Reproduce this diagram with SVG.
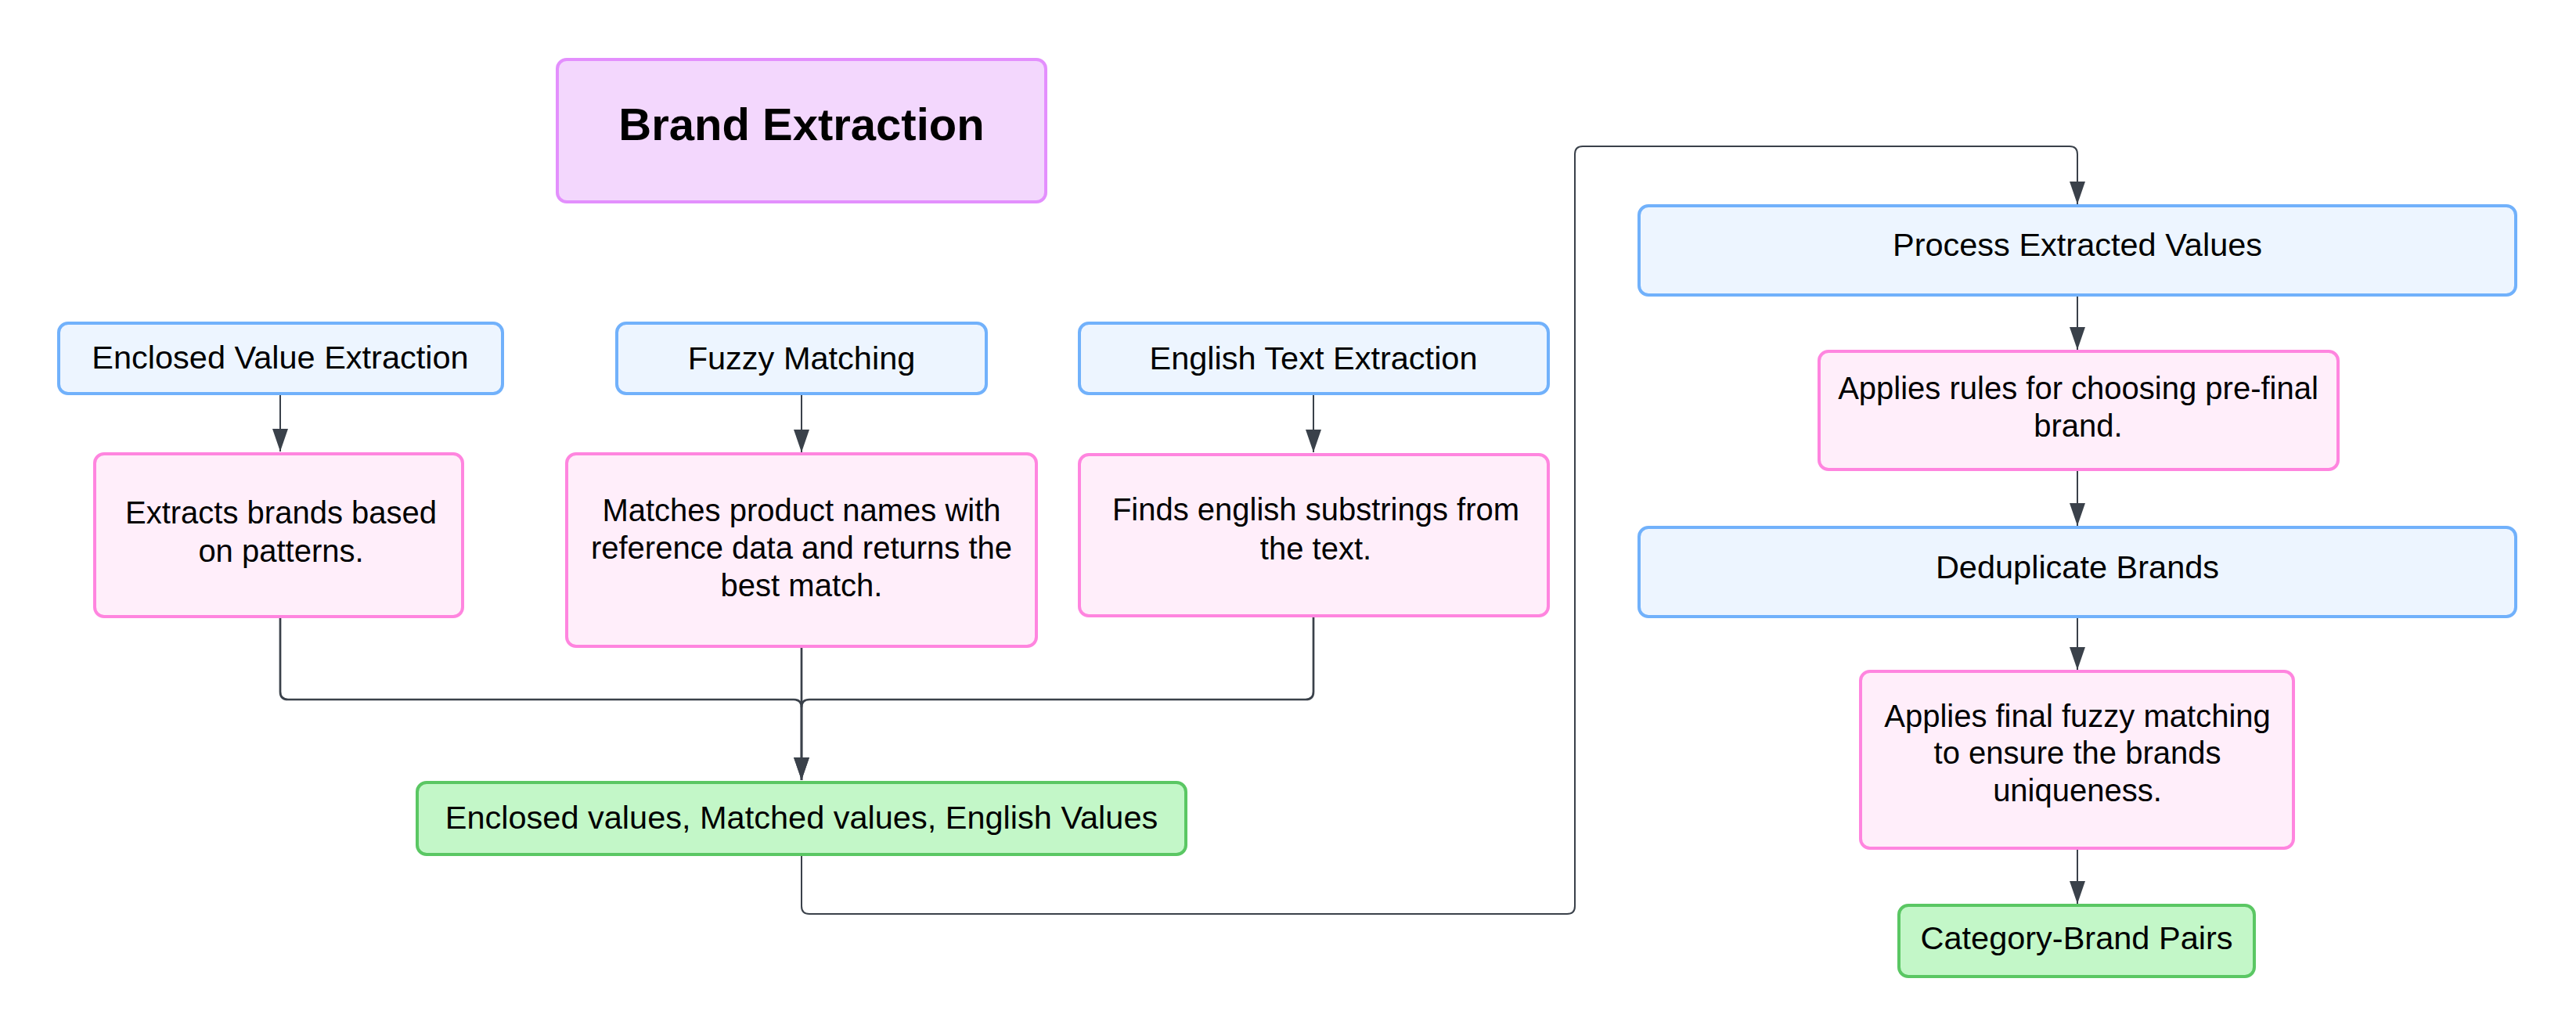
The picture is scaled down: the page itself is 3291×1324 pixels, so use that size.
<svg xmlns="http://www.w3.org/2000/svg" width="3291" height="1324" viewBox="0 0 3291 1324">
<style>
  text { font-family: "Liberation Sans", Arial, sans-serif; font-size: 41.5px; fill: #000; text-anchor: middle; }
  text.ml { font-size: 40px; }
  .title { font-weight: bold; font-size: 58px; }
  .blue { fill: #EDF5FF; stroke: #71B1FB; stroke-width: 4; }
  .pink { fill: #FFEEFA; stroke: #FF85DF; stroke-width: 4; }
  .purple { fill: #F3D7FD; stroke: #E38FFD; stroke-width: 4; }
  .green { fill: #C3F7C8; stroke: #5AC763; stroke-width: 4; }
  .conn { fill: none; stroke: #3A414A; stroke-width: 2; }
  .merge { stroke-width: 2.7; }
</style>
<defs>
  <marker id="arrow" markerUnits="userSpaceOnUse" markerWidth="30" markerHeight="20" refX="29" refY="10" orient="auto">
    <path d="M0,0 L29,10 L0,20 z" fill="#3A414A"/>
  </marker>
</defs>
<rect width="3291" height="1324" fill="#FFFFFF"/>

<g id="connectors">
  <path class="conn" d="M358 503 V577" marker-end="url(#arrow)"/>
  <path class="conn" d="M1024 503 V578" marker-end="url(#arrow)"/>
  <path class="conn" d="M1678 503 V578" marker-end="url(#arrow)"/>
  <path class="conn merge" d="M358 788 V884 Q358 894 368 894 H1014 Q1024 894 1024 904 V997" marker-end="url(#arrow)"/>
  <path class="conn merge" d="M1024 826 V997" marker-end="url(#arrow)"/>
  <path class="conn merge" d="M1678 787 V884 Q1678 894 1668 894 H1034 Q1024 894 1024 904"/>
  <path class="conn" d="M1024 1092 V1158 Q1024 1168 1034 1168 H2002 Q2012 1168 2012 1158 V197 Q2012 187 2022 187 H2644 Q2654 187 2654 197 V261" marker-end="url(#arrow)"/>
  <path class="conn" d="M2654 377 V447" marker-end="url(#arrow)"/>
  <path class="conn" d="M2654 600 V672" marker-end="url(#arrow)"/>
  <path class="conn" d="M2654 788 V856" marker-end="url(#arrow)"/>
  <path class="conn" d="M2654 1084 V1155" marker-end="url(#arrow)"/>
</g>

<g id="brand-extraction">
  <rect class="purple" x="712" y="76" width="624" height="182" rx="12"/>
  <text class="title" x="1024" y="179">Brand Extraction</text>
</g>

<g id="enclosed-value-extraction">
  <rect class="blue" x="75" y="413" width="567" height="90" rx="12"/>
  <text x="358" y="471">Enclosed Value Extraction</text>
</g>

<g id="fuzzy-matching">
  <rect class="blue" x="788" y="413" width="472" height="90" rx="12"/>
  <text x="1024" y="472">Fuzzy Matching</text>
</g>

<g id="english-text-extraction">
  <rect class="blue" x="1379" y="413" width="599" height="90" rx="12"/>
  <text x="1678" y="472">English Text Extraction</text>
</g>

<g id="extracts-brands">
  <rect class="pink" x="121" y="580" width="470" height="208" rx="12"/>
  <text class="ml" x="359" y="669">Extracts brands based</text>
  <text class="ml" x="359" y="718">on patterns.</text>
</g>

<g id="matches-product-names">
  <rect class="pink" x="724" y="580" width="600" height="246" rx="12"/>
  <text class="ml" x="1024" y="666">Matches product names with</text>
  <text class="ml" x="1024" y="714">reference data and returns the</text>
  <text class="ml" x="1024" y="762">best match.</text>
</g>

<g id="finds-english-substrings">
  <rect class="pink" x="1379" y="581" width="599" height="206" rx="12"/>
  <text class="ml" x="1681" y="665">Finds english substrings from</text>
  <text class="ml" x="1681" y="715">the text.</text>
</g>

<g id="extracted-values">
  <rect class="green" x="533" y="1000" width="982" height="92" rx="12"/>
  <text x="1024" y="1059">Enclosed values, Matched values, English Values</text>
</g>

<g id="process-extracted-values">
  <rect class="blue" x="2094" y="263" width="1120" height="114" rx="12"/>
  <text x="2654" y="327">Process Extracted Values</text>
</g>

<g id="applies-rules">
  <rect class="pink" x="2324" y="449" width="663" height="151" rx="12"/>
  <text class="ml" x="2655" y="510">Applies rules for choosing pre-final</text>
  <text class="ml" x="2655" y="558">brand.</text>
</g>

<g id="deduplicate-brands">
  <rect class="blue" x="2094" y="674" width="1120" height="114" rx="12"/>
  <text x="2654" y="739">Deduplicate Brands</text>
</g>

<g id="applies-final-fuzzy">
  <rect class="pink" x="2377" y="858" width="553" height="226" rx="12"/>
  <text class="ml" x="2654" y="929">Applies final fuzzy matching</text>
  <text class="ml" x="2654" y="976">to ensure the brands</text>
  <text class="ml" x="2654" y="1024">uniqueness.</text>
</g>

<g id="category-brand-pairs">
  <rect class="green" x="2426" y="1157" width="454" height="91" rx="12"/>
  <text x="2653" y="1213">Category-Brand Pairs</text>
</g>
</svg>
